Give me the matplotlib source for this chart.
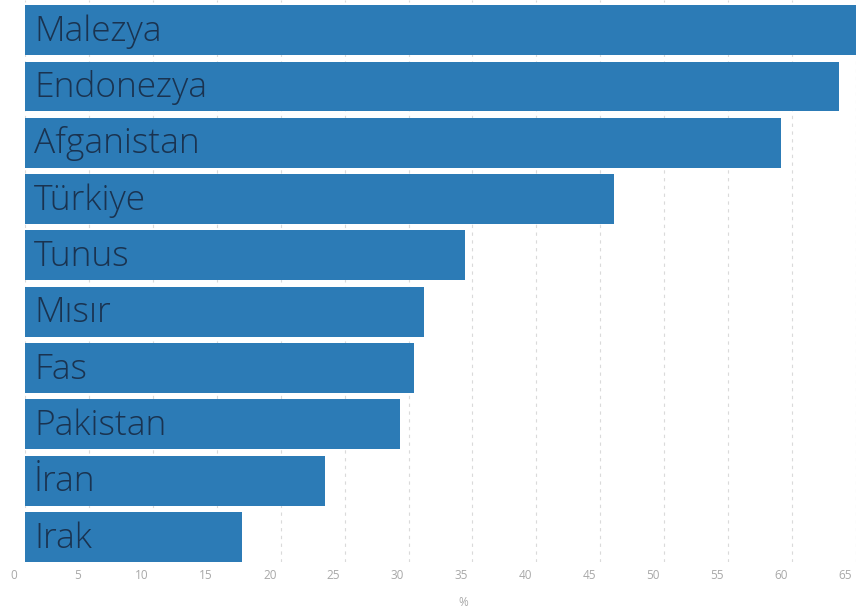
import matplotlib
matplotlib.use("Agg")
import matplotlib.pyplot as plt
import matplotlib.transforms as mtransforms

countries = ["Malezya", "Endonezya", "Afganistan", "Türkiye", "Tunus",
             "Mısır", "Fas", "Pakistan", "İran", "Irak"]
values = [66.0, 63.7, 59.1, 46.1, 34.4, 31.2, 30.4, 29.3, 23.5, 17.0]
xticks = list(range(0, 70, 5))

fig = plt.figure(figsize=(8.56, 6.15), dpi=100)
W, H = 856, 615
ax = fig.add_axes([25 / W, 1 - 562 / H, (856 - 25) / W, 562 / H])

n = len(countries)
ypos = list(range(n - 1, -1, -1))
bar_color = "#2c7bb6"
ax.barh(ypos, values, height=0.885, color=bar_color, zorder=2)

for y, name in zip(ypos, countries):
    ax.text(0.7, y - 0.19, name, va="baseline", ha="left", fontsize=25.5,
            family="Open Sans", weight="light", color="#1a3350", zorder=3)

ax.set_xlim(0, 65)
ax.set_ylim(-0.445, 9.535)
ax.set_xticks(xticks)
ax.set_xticklabels([str(t) for t in xticks], fontsize=8.5, color="#a8a8a8",
                   family="Open Sans")
ax.tick_params(axis="x", length=0, pad=5)
offset = mtransforms.ScaledTranslation(-11 / 100, 0, fig.dpi_scale_trans)
for lab in ax.get_xticklabels():
    lab.set_transform(lab.get_transform() + offset)
ax.set_yticks([])
ax.grid(axis="x", linestyle=(0, (3, 4)), color="#dadada", linewidth=0.8, zorder=0)
for s in ax.spines.values():
    s.set_visible(False)

fig.text(463 / W, 1 - 603 / H, "%", fontsize=8.5, color="#a8a8a8",
         ha="center", va="center", family="Open Sans")

fig.savefig("out.png", dpi=100)
